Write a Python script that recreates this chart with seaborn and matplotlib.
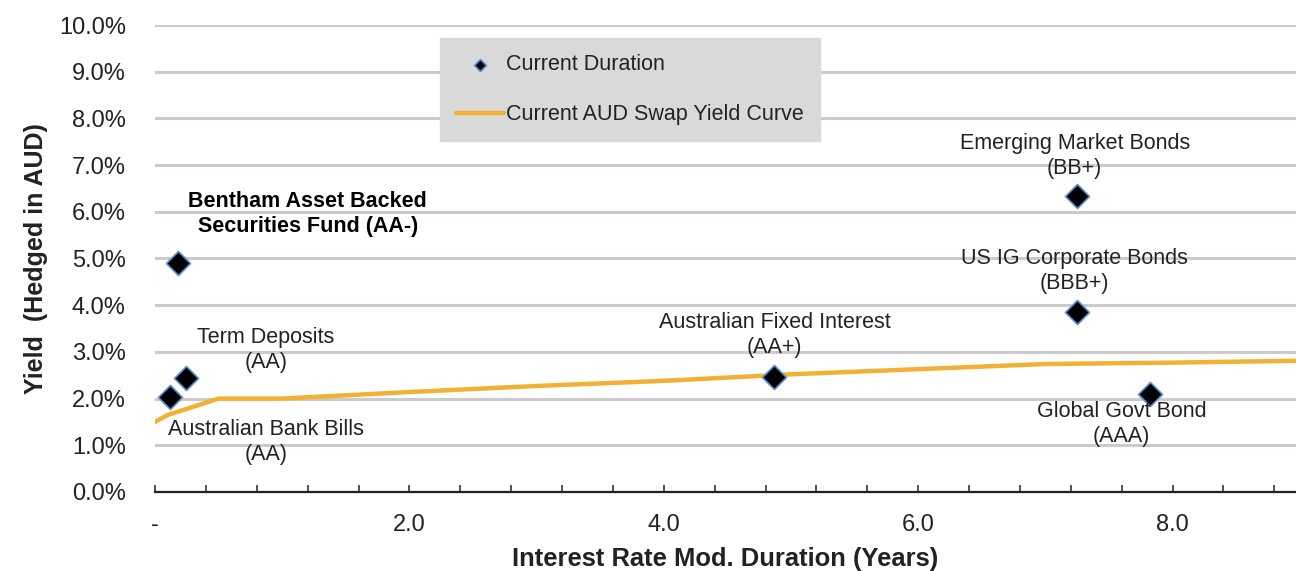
import numpy as np
import pandas as pd
import matplotlib
matplotlib.use("Agg")
import matplotlib.pyplot as plt
import matplotlib.ticker as mticker
import seaborn as sns

# Asset classes: modified duration (years) and hedged yield (%)
asset_names = [
    "Australian Bank Bills",
    "Bentham Asset Backed Securities Fund",
    "Term Deposits",
    "Australian Fixed Interest",
    "Emerging Market Bonds",
    "US IG Corporate Bonds",
    "Global Govt Bond",
]
asset_duration = [0.12, 0.18, 0.24, 4.87, 7.25, 7.25, 7.82]
asset_yield = [2.03, 4.90, 2.45, 2.47, 6.33, 3.85, 2.10]

# AUD swap yield curve
swap_tenor = [0.0, 0.1, 0.25, 0.5, 1.0, 2.0, 3.0, 4.0, 5.0, 6.0, 7.0, 8.0, 9.0]
swap_yield = [1.50, 1.65, 1.78, 2.00, 2.00, 2.14, 2.27, 2.38, 2.52, 2.63, 2.74, 2.77, 2.81]

# Label text and positions (duration, yield)
label_text = [
    "Australian Bank Bills\n(AA)",
    "Bentham Asset Backed\nSecurities Fund (AA-)",
    "Term Deposits\n(AA)",
    "Australian Fixed Interest\n(AA+)",
    "Emerging Market Bonds\n(BB+)",
    "US IG Corporate Bonds\n(BBB+)",
    "Global Govt Bond\n(AAA)",
]
label_x = [0.87, 1.20, 0.87, 4.87, 7.23, 7.23, 7.60]
label_y = [1.07, 5.95, 3.04, 3.36, 7.20, 4.73, 1.46]
label_bold = [False, True, False, False, False, False, False]

points = pd.DataFrame({"duration": asset_duration, "yield": asset_yield, "asset": asset_names})
curve = pd.DataFrame({"tenor": swap_tenor, "yield": swap_yield})

sns.set_style("white")
plt.rcParams["font.family"] = ["Liberation Sans", "DejaVu Sans"]

fig = plt.figure(figsize=(12.96, 5.71), dpi=100)
ax = fig.add_axes([0.1196, 0.1384, 0.8804, 0.8178])

# gridlines
for v in np.arange(0, 10.01, 1.0):
    ax.axhline(v, color="#cfcaca", lw=2.2, zorder=0)

sns.lineplot(data=curve, x="tenor", y="yield", ax=ax, color="#F2B134", lw=3.2,
             label="Current AUD Swap Yield Curve", zorder=2, legend=False)
sns.scatterplot(data=points, x="duration", y="yield", ax=ax, marker="D", s=150,
                color="black", edgecolor="#5b8fd0", linewidth=1.2, zorder=3,
                label="Current Duration", legend=False)

for t, x, y, b in zip(label_text, label_x, label_y, label_bold):
    ax.text(x, y, t, ha="center", va="center", fontsize=15.5,
            linespacing=1.22, fontweight="bold" if b else "normal",
            color="#222222" if not b else "black", zorder=4)

ax.set_xlim(0, 8.97)
ax.set_ylim(0, 10)
ax.yaxis.set_major_locator(mticker.MultipleLocator(1.0))
ax.yaxis.set_major_formatter(mticker.FuncFormatter(lambda v, p: f"{v:.1f}%"))
ax.xaxis.set_major_locator(mticker.FixedLocator([0, 2, 4, 6, 8]))
ax.xaxis.set_minor_locator(mticker.MultipleLocator(0.4))
ax.xaxis.set_major_formatter(mticker.FuncFormatter(lambda v, p: "-" if v == 0 else f"{v:.1f}"))

ax.tick_params(axis="y", length=0, pad=21, labelsize=17, labelcolor="#222222")
ax.tick_params(axis="x", which="both", direction="in", length=5, width=1.2,
               color="#333333", pad=16, labelsize=17, labelcolor="#222222", bottom=True)

for s in ["left", "right", "top"]:
    ax.spines[s].set_visible(False)
ax.spines["bottom"].set_color("#222222")
ax.spines["bottom"].set_linewidth(1.6)

ax.set_xlabel("Interest Rate Mod. Duration (Years)", fontsize=18.4, fontweight="bold",
              color="#222222", labelpad=8)
ax.set_ylabel("Yield  (Hedged in AUD)", fontsize=18, fontweight="bold",
              color="#222222", labelpad=8)

handles, labels = ax.get_legend_handles_labels()
order = [labels.index("Current Duration"), labels.index("Current AUD Swap Yield Curve")]
leg = ax.legend([handles[i] for i in order], [labels[i] for i in order],
                loc="upper left", bbox_to_anchor=(0.25, 0.972), fontsize=15.5,
                frameon=True, fancybox=False, framealpha=1, facecolor="#d9d9d9",
                edgecolor="#d9d9d9", borderpad=0.75, labelspacing=1.35,
                handlelength=2.2, handletextpad=0.1, borderaxespad=0, markerscale=0.5)
for t in leg.get_texts():
    t.set_color("#222222")

fig.savefig("out.png", dpi=100)
